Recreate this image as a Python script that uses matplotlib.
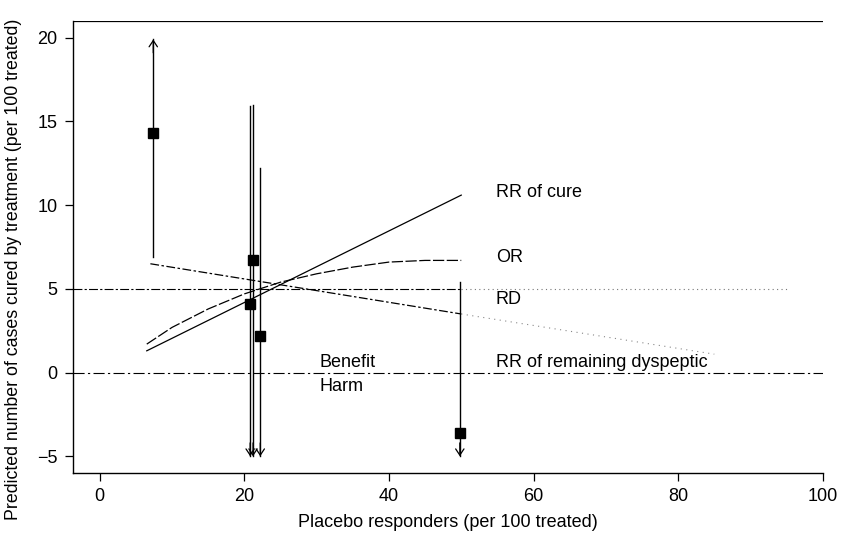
import numpy as np
import matplotlib.pyplot as plt

plt.rcParams['font.family'] = ['Liberation Sans', 'DejaVu Sans']

# ================================
# Data
# ================================
# individual trials: placebo rate, point estimate, CI limits
trial_x = [7.4, 20.8, 21.2, 22.2, 49.8]
trial_y = [14.3, 4.1, 6.7, 2.2, -3.6]
ci_low = [6.9, -5.0, -5.0, -5.0, -5.0]
ci_high = [19.9, 15.9, 16.0, 12.2, 5.4]
low_arrow = [False, True, True, True, True]
high_arrow = [True, False, False, False, False]

# pooled-effect curves
cure_x = [6.5, 50]
cure_y = [1.3, 10.6]

or_x = [6.5, 10, 15, 20, 25, 30, 35, 40, 45, 50]
or_y = [1.7, 2.7, 3.8, 4.7, 5.4, 5.9, 6.3, 6.6, 6.7, 6.7]

rd_x = [-3.7, 50, 95]
rd_y = [5, 5, 5]

dysp_x = [7, 50, 85]
dysp_y = [6.5, 3.5, 1.1]

curve_labels = ["RR of cure", "OR", "RD", "RR of remaining dyspeptic"]
label_y = [10.75, 6.85, 4.35, 0.6]

# ================================
# Figure
# ================================
fig = plt.figure(figsize=(8.51, 5.36), dpi=100)
ax = fig.add_axes([0.0858, 0.1175, 0.881, 0.8433])

lw = 0.9

# reference lines
ax.axhline(0, color='black', lw=0.8, ls=(0, (10, 3, 2, 3)))
ax.axhline(21, color='black', lw=0.9)

# curves
ax.plot(cure_x, cure_y, color='black', lw=lw)
ax.plot(or_x, or_y, color='black', lw=lw, ls=(0, (9, 2)))
ax.plot(rd_x[:2], rd_y[:2], color='black', lw=0.8, ls=(0, (8, 2, 2, 2)))
ax.plot(rd_x[1:], rd_y[1:], color='#777777', lw=0.8, ls=(0, (1, 3)))
ax.plot(dysp_x[:2], dysp_y[:2], color='black', lw=lw, ls=(0, (7, 2, 2, 2)))
ax.plot(dysp_x[1:], dysp_y[1:], color='#888888', lw=0.8, ls=(0, (1, 4)))

# trials with confidence intervals
for x, y, lo, hi, la, ha in zip(trial_x, trial_y, ci_low, ci_high, low_arrow, high_arrow):
    ax.plot([x, x], [lo, hi], color='black', lw=1.0)
    if la:
        ax.annotate("", xy=(x, lo), xytext=(x, lo + 0.8),
                    arrowprops=dict(arrowstyle="->,head_length=0.45,head_width=0.3",
                                    lw=0.9, color='black', shrinkA=0, shrinkB=0))
    if ha:
        ax.annotate("", xy=(x, hi), xytext=(x, hi - 0.8),
                    arrowprops=dict(arrowstyle="->,head_length=0.45,head_width=0.3",
                                    lw=0.9, color='black', shrinkA=0, shrinkB=0))
ax.plot(trial_x, trial_y, 's', color='black', markersize=6.5)

# labels
for txt, yy in zip(curve_labels, label_y):
    ax.text(54.8, yy, txt, fontsize=13, va='center', ha='left')
ax.text(30.4, 0.62, "Benefit", fontsize=13, va='center', ha='left')
ax.text(30.4, -0.85, "Harm", fontsize=13, va='center', ha='left')

# axes
ax.set_xlim(-3.7, 100)
ax.set_ylim(-6, 21)
ax.set_xticks([0, 20, 40, 60, 80, 100])
ax.set_yticks([-5, 0, 5, 10, 15, 20])
ax.set_yticklabels(['\u22125', '0', '5', '10', '15', '20'])
ax.tick_params(labelsize=13, direction='out', length=6, width=0.9, pad=5)
for s in ['top', 'right']:
    ax.spines[s].set_visible(False)
for s in ['left', 'bottom']:
    ax.spines[s].set_linewidth(1.0)

ax.set_xlabel("Placebo responders (per 100 treated)", fontsize=13, labelpad=6)
ax.set_ylabel("Predicted number of cases cured by treatment (per 100 treated)", fontsize=12.8, labelpad=6)
ax.yaxis.set_label_coords(-0.068, 0.451)

fig.savefig("out.png", dpi=100)
